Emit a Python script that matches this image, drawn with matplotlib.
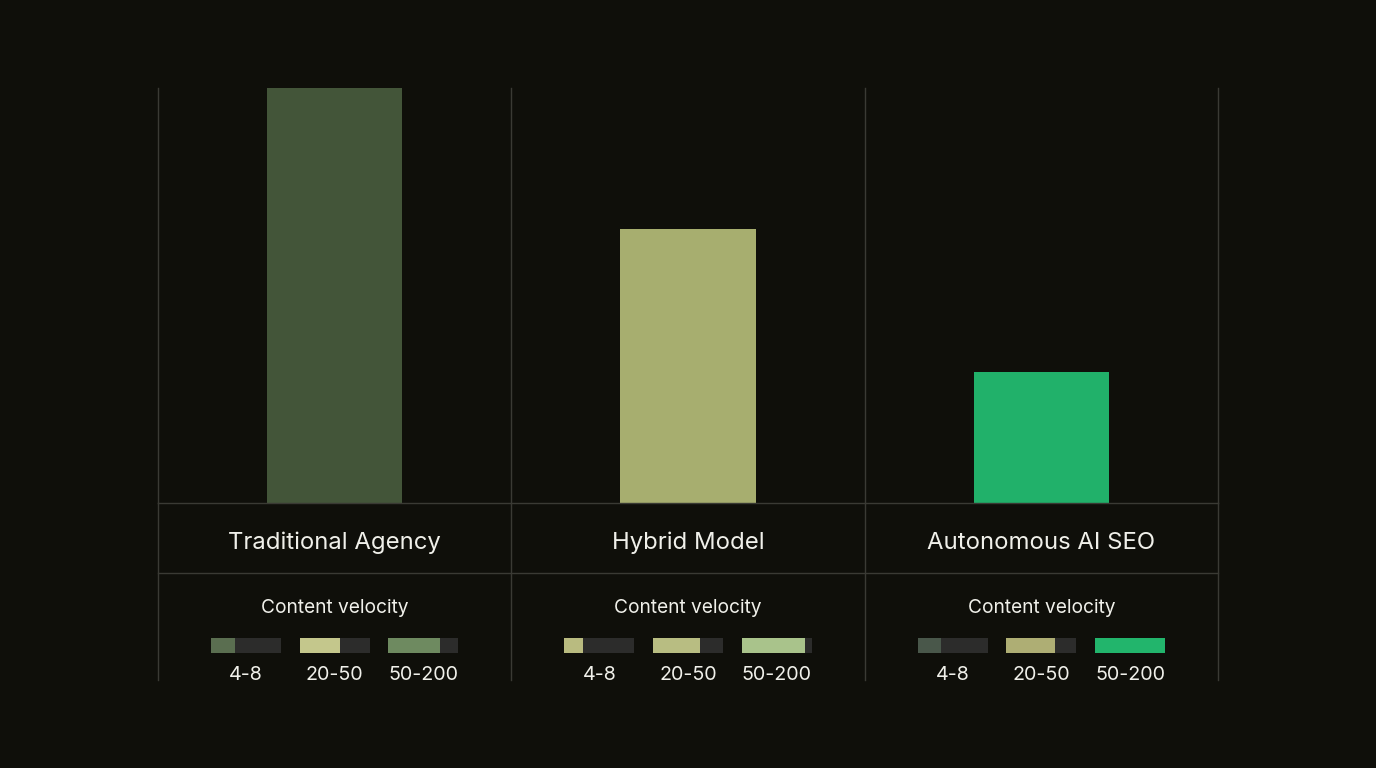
import matplotlib.pyplot as plt

# data
models = ["Traditional Agency", "Hybrid Model", "Autonomous AI SEO"]
bar_values = [100, 66, 31.6]
bar_colors = ["#435539", "#a7ae6f", "#21b16a"]

velocity_labels = ["4-8", "20-50", "50-200"]
velocity_fill = [
    [0.34, 0.58, 0.74],
    [0.27, 0.67, 0.91],
    [0.34, 0.70, 1.00],
]
velocity_colors = [
    ["#5a6e50", "#c4c78c", "#6e8a60"],
    ["#b9bb80", "#b8bd82", "#a9c38b"],
    ["#49574a", "#aeae74", "#22b56c"],
]

bg = "#0f0f0a"
line_c = "#3a3a34"
text_c = "#f0f0ea"
track_c = "#2c2c2b"

plt.rcParams['font.family'] = ['Inter', 'DejaVu Sans']

W, H = 1376, 768
fig = plt.figure(figsize=(W / 100, H / 100), dpi=100, facecolor=bg)

# upper axes: the bars
ax = fig.add_axes([158 / W, (H - 503) / H, 1060 / W, 415 / H])
ax.set_facecolor(bg)
ax.set_xlim(-0.5, 2.5)
ax.set_ylim(0, 100)
ax.bar(range(len(models)), bar_values, width=0.383, color=bar_colors, zorder=2)
ax.axis("off")

# lower axes: labels and velocity meters
lo = fig.add_axes([158 / W, (H - 680) / H, 1060 / W, 177 / H])
lo.set_facecolor(bg)
lo.set_xlim(-0.5, 2.5)
lo.set_ylim(177, 0)
lo.axis("off")

for a in (ax, lo):
    for xv in [-0.5, 0.5, 1.5, 2.5]:
        a.axvline(xv, color=line_c, lw=1, clip_on=False, zorder=1)
lo.axhline(0, color=line_c, lw=1, clip_on=False)
lo.axhline(70, color=line_c, lw=1, clip_on=False)

offsets = [-0.251, 0.0, 0.251]
tw = 0.198
for i, name in enumerate(models):
    lo.text(i, 40, name, color=text_c, fontsize=17.2, ha="center", va="center")
    lo.text(i, 105, "Content velocity", color=text_c, fontsize=13.8,
            ha="center", va="center")
    for j, lab in enumerate(velocity_labels):
        x0 = i + offsets[j] - tw / 2
        lo.barh(142.5, tw, left=x0, height=15, color=track_c)
        lo.barh(142.5, tw * velocity_fill[i][j], left=x0, height=15,
                color=velocity_colors[i][j])
        lo.text(i + offsets[j], 172, lab, color=text_c, fontsize=14.2,
                ha="center", va="center")

fig.savefig("out.png", dpi=100, facecolor=bg)
